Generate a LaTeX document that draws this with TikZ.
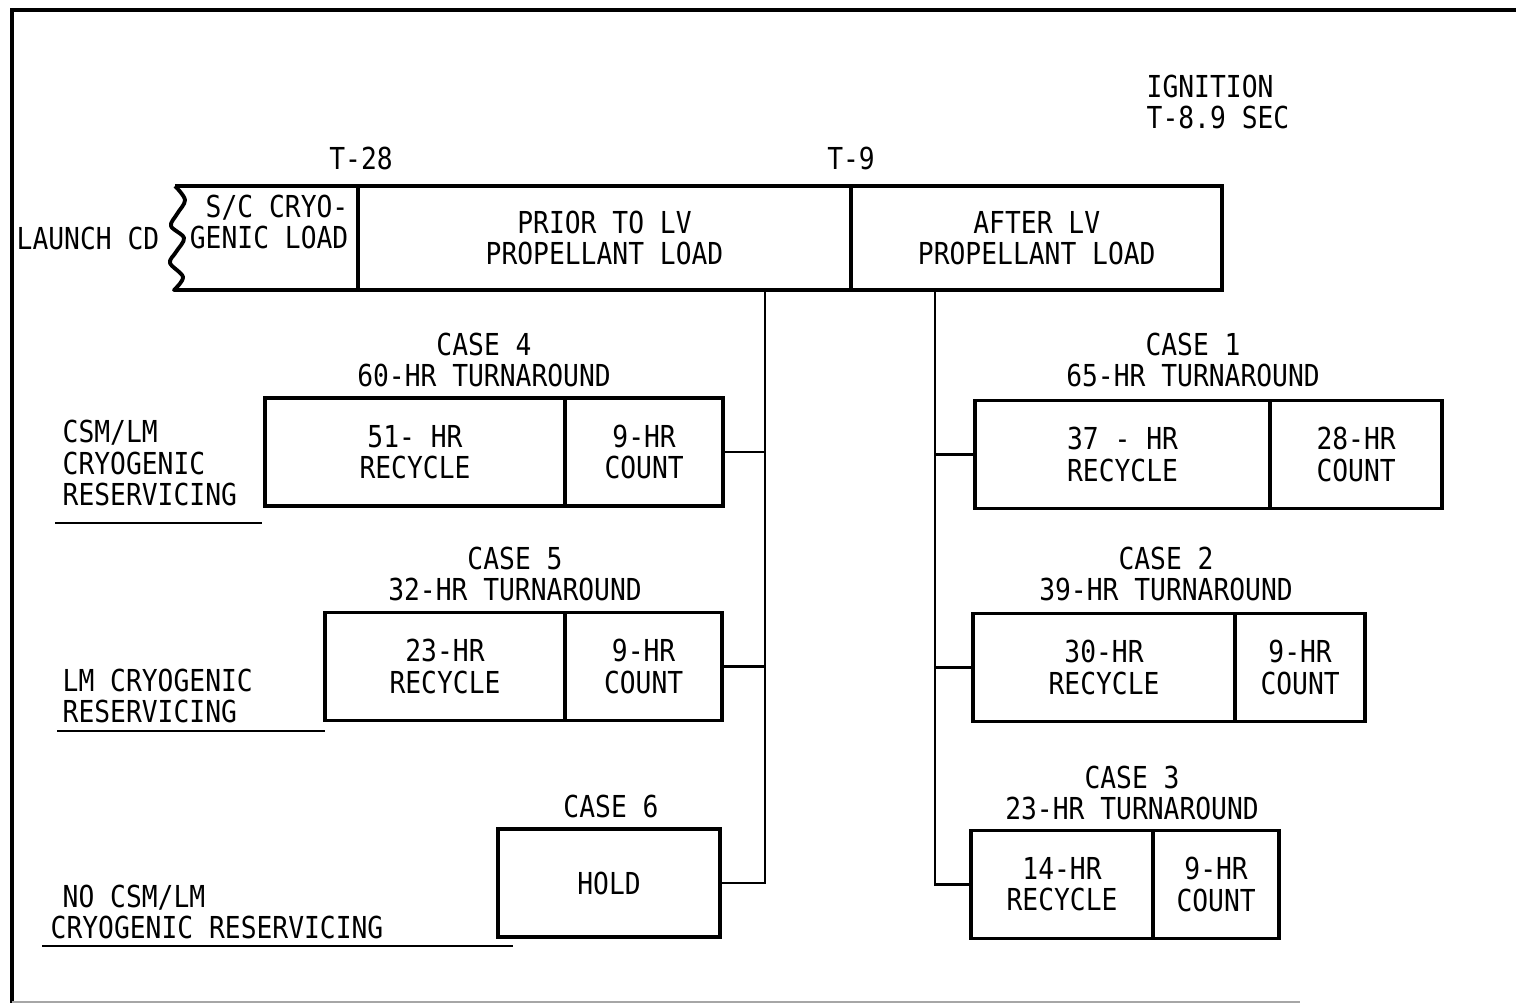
\documentclass[tikz,border=0pt]{standalone}
\usepackage{fontspec}
\newfontfamily\lgfont[FakeStretch=0.87]{DejaVu Sans Mono}
\usetikzlibrary{positioning}

\begin{document}
\begin{tikzpicture}[
    x=0.01cm, y=-0.01cm,
    bb/.style={
        rectangle,
        draw=black,
        line width=1.1pt,
        inner sep=2pt,
        outer sep=0pt,
        minimum height=1.08cm,
        font=\lgfont\fontsize{8.6}{8.9}\selectfont,
        align=center
    },
    txt/.style={
        inner sep=0pt,
        font=\lgfont\fontsize{8.6}{8.9}\selectfont,
        align=center
    },
    link/.style={line width=0.8pt}
]
    \useasboundingbox (0,0) rectangle (1516,1005);

    % frame
    \draw[line width=1.1pt] (1516,10) -- (12,10) -- (12,1003);
    \draw[line width=0.5pt, black!35] (12,1002) -- (1300,1002);

    % top bar
    \node[bb, minimum width=4.93cm, minimum height=1.04cm] (prior) at (604.5,238) {PRIOR TO LV\\PROPELLANT LOAD};
    \node[bb, minimum width=3.71cm, minimum height=1.04cm, anchor=west] (after) at (prior.east) {AFTER LV\\PROPELLANT LOAD};
    \node[txt, align=right, anchor=east] (scload) at (349,222) {S/C CRYO-\\GENIC LOAD};
    \draw[line width=1.1pt, line join=round] (prior.north west) -- (175,186)
        plot[smooth, tension=0.55] coordinates {(175,186) (185,200) (177,214) (171,226) (184,238) (176,252) (170,263) (183,277) (174,290)}
        -- (prior.south west);
    \node[txt] (launch) at (88,238) {LAUNCH CD};
    \node[txt] (t28) at (361,158) {T-28};
    \node[txt] (t9) at (851,158) {T-9};
    \node[txt, align=left, anchor=west] (ignition) at (1146,102) {IGNITION\\T-8.9 SEC};

    % left cases
    \node[txt] (c4lab) at (484,360) {CASE 4\\60-HR TURNAROUND};
    \node[bb, minimum width=3.00cm] (c4rec) at (415,452) {51- HR\\RECYCLE};
    \node[bb, minimum width=1.58cm, anchor=west] (c4count) at (c4rec.east) {9-HR\\COUNT};

    \node[txt] (c5lab) at (515,574) {CASE 5\\32-HR TURNAROUND};
    \node[bb, minimum width=2.40cm] (c5rec) at (445,666.5) {23-HR\\RECYCLE};
    \node[bb, minimum width=1.57cm, anchor=west] (c5count) at (c5rec.east) {9-HR\\COUNT};

    \node[txt] (c6lab) at (611,806) {CASE 6};
    \node[bb, minimum width=2.22cm] (c6hold) at (609,883) {HOLD};

    % right cases
    \node[txt] (c1lab) at (1193,360) {CASE 1\\65-HR TURNAROUND};
    \node[bb, minimum width=2.95cm] (c1rec) at (1122.5,454.5) {37 - HR\\RECYCLE};
    \node[bb, minimum width=1.72cm, anchor=west] (c1count) at (c1rec.east) {28-HR\\COUNT};

    \node[txt] (c2lab) at (1166,574) {CASE 2\\39-HR TURNAROUND};
    \node[bb, minimum width=2.62cm] (c2rec) at (1104,667.5) {30-HR\\RECYCLE};
    \node[bb, minimum width=1.30cm, anchor=west] (c2count) at (c2rec.east) {9-HR\\COUNT};

    \node[txt] (c3lab) at (1132,793) {CASE 3\\23-HR TURNAROUND};
    \node[bb, minimum width=1.82cm] (c3rec) at (1062,884.5) {14-HR\\RECYCLE};
    \node[bb, minimum width=1.26cm, anchor=west] (c3count) at (c3rec.east) {9-HR\\COUNT};

    % trunks
    \coordinate (tl) at (765,290);
    \coordinate (tr) at (935,290);
    \draw[link] (tl) |- (c6hold.east);
    \draw[link] (c4count.east) -- (c4count.east -| tl);
    \draw[link] (c5count.east) -- (c5count.east -| tl);
    \draw[link] (tr) |- (c3rec.west);
    \draw[link] (c1rec.west) -- (c1rec.west -| tr);
    \draw[link] (c2rec.west) -- (c2rec.west -| tr);

    % row labels
    \node[txt, align=left, anchor=west] (csmlm) at (62,463) {CSM/LM\\CRYOGENIC\\RESERVICING};
    \node[txt, align=left, anchor=west] (lmcryo) at (62,696) {LM CRYOGENIC\\RESERVICING};
    \node[txt, align=left, anchor=west] (nocsm) at (50,912) {\hspace{0.12cm}NO CSM/LM\\CRYOGENIC RESERVICING};
    \draw[link] (55,523) -- (262,523);
    \draw[link] (57,731) -- (325,731);
    \draw[link] (42,946) -- (513,946);

\end{tikzpicture}
\end{document}
